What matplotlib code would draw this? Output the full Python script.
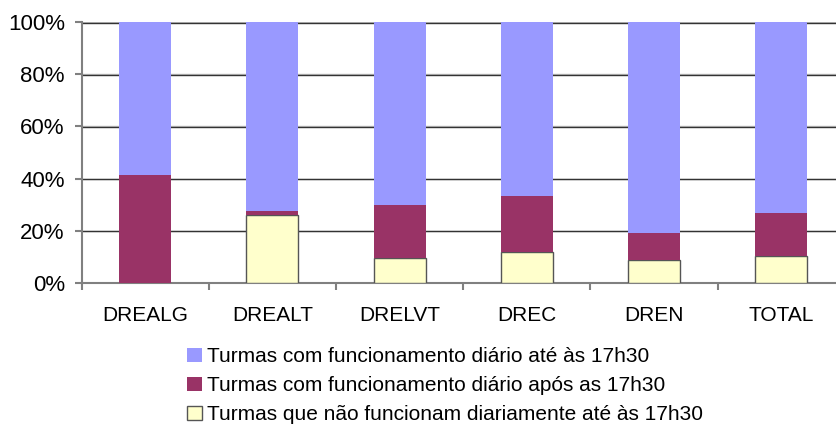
import matplotlib

matplotlib.use("Agg")
import matplotlib.pyplot as plt
import numpy as np

# Values (percent of turmas per region)
categories = ["DREALG", "DREALT", "DRELVT", "DREC", "DREN", "TOTAL"]
nao_diario = [0.0, 25.9, 9.7, 12.0, 9.0, 10.5]
apos_1730 = [41.3, 1.5, 20.3, 21.5, 10.2, 16.5]
ate_1730 = [100 - a - b for a, b in zip(nao_diario, apos_1730)]

labels = [
    "Turmas com funcionamento diário até às 17h30",
    "Turmas com funcionamento diário após as 17h30",
    "Turmas que não funcionam diariamente até às 17h30",
]
colors = ["#9999FF", "#993366", "#FFFFCC"]

plt.rcParams["font.family"] = ["Liberation Sans", "DejaVu Sans"]

fig = plt.figure(figsize=(8.36, 4.26), dpi=100)
# plot area runs a little past the right edge of the image, as in the source
ax = fig.add_axes([81.5 / 836, 1 - 283 / 426, (845 - 81.5) / 836, (283 - 22) / 426])

x = np.arange(len(categories))
width = 0.41
b3 = ax.bar(x, nao_diario, width, color=colors[2], edgecolor="#555555", linewidth=1.0, zorder=3)
b2 = ax.bar(x, apos_1730, width, bottom=nao_diario, color=colors[1], linewidth=0, zorder=3)
bottom1 = [a + b for a, b in zip(nao_diario, apos_1730)]
b1 = ax.bar(x, ate_1730, width, bottom=bottom1, color=colors[0], linewidth=0, zorder=3)

ax.set_xlim(-0.5, len(categories) - 0.5)
ax.set_ylim(0, 100)
ax.set_yticks(range(0, 101, 20))
ax.set_yticklabels([f"{v}%" for v in range(0, 101, 20)], fontsize=16)
ax.set_xticks(x)
ax.set_xticklabels(categories, fontsize=15)
ax.set_xticks(np.arange(-0.5, len(categories)), minor=True)
ax.tick_params(axis="x", which="major", length=0, pad=16.5)
ax.tick_params(axis="x", which="minor", length=5, color="#808080", width=1.5)
ax.tick_params(axis="y", length=5, color="#808080", width=1.5, pad=7)

for y in range(20, 101, 20):
    ax.axhline(y, color="#C0C0C0", linewidth=1.0, zorder=1)
    ax.axhline(y - 0.25, color="#333333", linewidth=1.0, zorder=2)

for side in ["top", "right"]:
    ax.spines[side].set_visible(False)
ax.spines["left"].set_color("#808080")
ax.spines["left"].set_linewidth(1.5)
ax.spines["bottom"].set_color("#808080")
ax.spines["bottom"].set_linewidth(1.5)

leg = fig.legend(
    [b1, b2, b3],
    labels,
    loc="upper left",
    bbox_to_anchor=(177 / 836, 1 - 337 / 426),
    frameon=False,
    fontsize=15,
    handlelength=0.7,
    handleheight=0.7,
    handletextpad=0.25,
    labelspacing=0.48,
    borderpad=0,
)

fig.savefig("out.png", dpi=100)
